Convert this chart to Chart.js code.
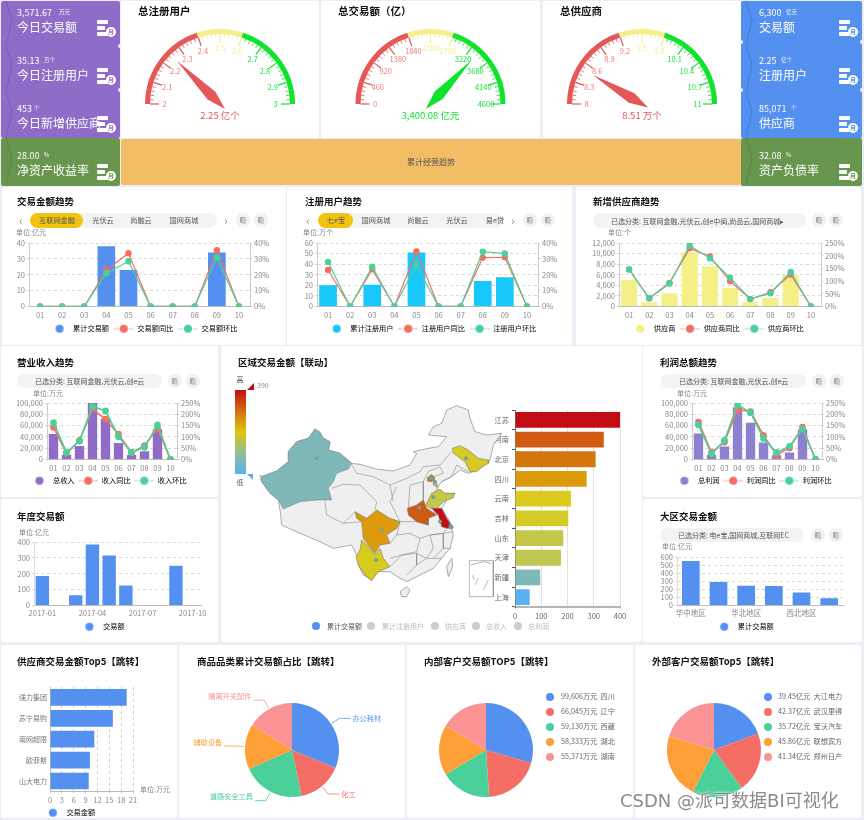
<!DOCTYPE html>
<html><head><meta charset="utf-8">
<script src="https://cdn.jsdelivr.net/npm/chart.js@4"></script>
<style>
html,body{margin:0;padding:0;background:#edeef5;width:864px;height:820px;overflow:hidden;font-family:"Noto Sans CJK SC","Noto Sans",sans-serif}
#root{position:relative;width:864px;height:820px;overflow:hidden;filter:blur(.3px)}
.p{position:absolute;background:#fff;border-radius:2px}
.t{position:absolute;white-space:nowrap;line-height:1;transform:translateY(-50%)}
canvas{position:absolute}
</style></head><body><div id="root"></div>
<script>
// ---------- KPI cards
const kpiLeftNames=["今日交易额","今日注册用户","今日新增供应商"];
const kpiLeftValues=["3,571.67","35.13","453"];
const kpiLeftUnits=["万元","万个","个"];
const kpiRightNames=["交易额","注册用户","供应商"];
const kpiRightValues=["6,300","2.25","85,071"];
const kpiRightUnits=["亿元","亿个","个"];
const kpiGreen=[["净资产收益率","28.00","%"],["资产负债率","32.08","%"]];
// ---------- gauges
const gaugeTitles=["总注册用户","总交易额（亿）","总供应商"];
const gaugeZones=[0.4,0.2,0.4];
const gaugeFractions=[0.25,0.7391,0.17];
const gaugeValues=["2.25 亿个","3,400.08 亿元","8.51 万个"];
const gaugeLabels1=["2","2.1","2.2","2.3","2.4","2.5","2.6","2.7","2.8","2.9","3"];
const gaugeLabels2=["0","460","920","1380","1840","2300","2760","3220","3680","4140","4600"];
const gaugeLabels3=["8","8.3","8.6","8.9","9.2","9.5","9.8","10.1","10.4","10.7","11"];
// ---------- monthly trend charts
const months=["01","02","03","04","05","06","07","08","09","10"];
const tradeBars=[0,0,0,38,23,0,0,0,34,0];
const tradeYoy=[0,0,0,23,33.5,0,0,0,35.5,0];
const tradeMom=[0,0,0,21,28.5,0,0,0,31,0];
const userBars=[20,0,20.5,0,51,0,0,24,27.5,0];
const userYoy=[23,0,23.4,0,34.7,0,0,30.8,31,0];
const userMom=[28,0,25,0,26,0,0,34.5,33.4,0];
const supplierBars=[5000,800,2500,10200,7600,3500,800,1600,5900,0];
const supplierYoy=[146,32,93,229,197,100,29,56,126,0];
const supplierMom=[146,32,90,240,190,113,29,52,136,0];
const revenueBars=[45000,8000,24000,100000,72000,29000,8000,14500,53000,0];
const revenueYoy=[143,27,84,224,178,112,31,61,138,0];
const revenueMom=[163,31,81,235,215,101,31,54,153,0];
const profitBars=[46000,8000,23000,92000,65000,30000,7500,12500,53000,0];
const profitYoy=[165,31,77,220,212,107,20,51,143,0];
const profitMom=[153,25,84,242,207,93,31,58,135,0];
// ---------- other bars
const yearLabels=["2017-01","2017-02","2017-03","2017-04","2017-05","2017-06","2017-07","2017-08","2017-09","2017-10"];
const yearValues=[185,0,65,385,315,125,0,0,250,0];
const regionLabels=["华中地区","华南地区","华北地区","华东地区","西北地区","东北地区"];
const regionValues=[550,290,245,240,160,90];
const provinceLabels=["江苏","河南","北京","四川","云南","吉林","山东","天津","新疆","上海"];
const provinceValues=[400,338,307,273,213,203,184,175,96,56];
const provinceColors=["#c30d14","#d05a12","#d4760f","#dc9a0c","#dccb1e","#d4cb26","#c5c748","#bfc750","#7eb8b8","#5ab0f0"];
const top5Names=["强力集团","苏宁易购","南网超限","欧菲斯","山大电力"];
const top5Values=[19.4,15.9,11.2,10.1,9.8];
// ---------- pies
const pieColors=["#5390f0","#f56e66","#4cd09a","#ff9f38","#fa9494"];
const categoryNames=["办公耗材","化工","道路安全工具","辅助设备","隔离开关配件"];
const categoryValues=[112.6,55.9,77.5,56,58];
const innerValues=[99606,66045,59130,58333,55371];
const innerLegend=["99,606万元  四川","66,045万元  辽宁","59,130万元  西藏","58,333万元  湖北","55,371万元  湖南"];
const outerValues=[39.45,42.37,35.72,45.86,41.34];
const outerLegend=["39.45亿元  大江电力","42.37亿元  武汉里得","35.72亿元  宝沃汽车","45.86亿元  联想宾方","41.34亿元  郑州日产"];
// ---------- map outlines, in map units
const mainland=[[285,252],[300,262],[310,280],[330,290],[325,315],[360,325],[395,355],[420,358],[470,372],[520,378],[570,360],[590,325],[580,320],[625,310],[655,305],[680,275],[625,270],[640,245],[665,235],[680,195],[710,182],[745,195],[750,220],[765,260],[800,270],[845,265],[820,300],[810,345],[775,375],[745,385],[720,375],[695,395],[665,410],[655,425],[645,445],[705,445],[680,465],[665,490],[690,530],[700,570],[690,610],[665,640],[640,670],[600,690],[560,710],[540,700],[510,680],[470,680],[455,705],[430,690],[415,660],[410,630],[395,600],[340,610],[300,590],[240,565],[185,540],[180,495],[175,465],[150,445],[125,410],[125,395],[170,378],[205,350],[205,320],[230,290],[265,280]];
const hainan=[[540,740],[560,725],[570,735],[560,755],[545,755]];
const taiwan=[[680,665],[695,640],[698,665],[685,695]];
const xinjiang=[[285,252],[300,262],[310,280],[330,290],[325,315],[360,325],[395,355],[385,372],[350,385],[340,410],[325,430],[335,465],[290,465],[240,470],[190,492],[175,465],[150,445],[125,410],[125,395],[170,378],[205,350],[205,320],[230,290],[265,280]];
const sichuan=[[405,500],[440,520],[470,495],[510,520],[540,530],[530,550],[500,570],[510,595],[480,600],[465,625],[445,600],[430,580],[425,530],[410,520]];
const yunnan=[[425,585],[450,610],[465,630],[480,610],[490,640],[510,665],[475,680],[455,707],[435,690],[415,660],[408,635],[420,615]];
const henan=[[562,490],[590,480],[610,465],[620,490],[650,510],[625,520],[625,540],[590,530],[565,510]];
const shandong=[[618,480],[635,445],[660,432],[675,445],[705,445],[700,458],[670,470],[650,490],[630,490]];
const jiangsu=[[635,490],[665,490],[680,520],[700,548],[680,550],[665,545],[655,510]];
const shanghai=[[688,535],[700,545],[695,552],[686,548]];
const beijing=[[622,398],[635,388],[645,400],[635,410],[622,408]];
const tianjin=[[640,400],[650,415],[652,425],[640,420]];
const jilin=[[697,310],[720,302],[745,315],[775,340],[805,345],[805,355],[780,370],[770,380],[750,380],[735,350],[700,325]];
const borderLines=[
[[315,468],[320,510],[370,535],[405,500]],
[[335,430],[370,418],[420,420],[470,470],[465,495]],
[[395,358],[410,385],[460,395],[510,420],[520,470]],
[[510,420],[560,400],[600,380],[610,365],[660,360],[695,320]],
[[530,425],[510,470],[540,530]],[[570,505],[565,490],[570,420]],
[[570,420],[610,410],[610,465]],
[[610,410],[625,380],[660,365],[670,385],[640,395],[650,430]],
[[665,410],[695,395],[710,360],[745,380]],
[[510,595],[530,570],[570,565],[600,580],[590,620],[545,630],[510,640]],
[[600,580],[630,570],[640,610],[620,640],[590,625]],
[[630,570],[670,565],[670,610],[640,640],[620,640]],
[[625,520],[640,500],[655,510],[680,550],[670,565],[630,570]],
[[670,565],[700,560]],[[670,610],[695,610]],[[640,640],[665,640]],
[[510,665],[545,630],[590,625],[590,660],[560,690]],
[[590,660],[620,640]],
[[540,530],[570,530],[590,530],[625,540]],
[[530,570],[540,530]],
[[425,530],[370,535]],
[[748,647],[820,647],[820,755],[748,755],[748,647]],
[[752,660],[790,650],[815,655]],[[765,720],[775,700]],[[790,735],[805,705]],[[758,690],[762,705]]
];
const mapDots=[[290,340],[485,553],[468,645],[598,488],[640,456],[660,530],[693,545],[633,400],[645,410],[738,340]];
const mapLegend=["累计交易额","累计注册用户","供应商","总收入","总利润"];

// ---------- helpers
const FONT='"Noto Sans CJK SC","Noto Sans",sans-serif';
const TICK=7.5,LEG=7.2;
Chart.defaults.font.family=FONT;
Chart.defaults.animation=false;
Chart.defaults.responsive=false;
const root=document.getElementById('root');
function panel(x,y,w,h,bg){const d=document.createElement('div');d.className='p';d.style.cssText=`left:${x}px;top:${y}px;width:${w}px;height:${h}px;background:${bg||'#fff'}`;root.appendChild(d);return d}
function text(s,x,y,o={}){const d=document.createElement('div');d.className='t';d.textContent=s;
 let css=`left:${x}px;top:${y}px;font-size:${o.size||8}px;color:${o.color||'#666'};`;
 if(o.bold)css+='font-weight:700;';
 if(o.center)css+='transform:translate(-50%,-50%);';
 if(o.clip)css+=`width:${o.clip}px;overflow:hidden;line-height:1.3;`;
 if(o.pre)css+='white-space:pre;';
 if(o.extra)css+=o.extra;
 d.style.cssText=css;root.appendChild(d);return d}
function canvas(x,y,w,h){const c=document.createElement('canvas');c.width=w;c.height=h;c.style.left=x+'px';c.style.top=y+'px';root.appendChild(c);return c}
function dot(x,y,r,color){const d=document.createElement('div');d.style.cssText=`position:absolute;left:${x-r}px;top:${y-r}px;width:${2*r}px;height:${2*r}px;border-radius:50%;background:${color}`;root.appendChild(d);return d}
function block(x,y,w,h,color,extra){const d=document.createElement('div');d.style.cssText=`position:absolute;left:${x}px;top:${y}px;width:${w}px;height:${h}px;background:${color};${extra||''}`;root.appendChild(d);return d}
function chevron(x,ys,color){const ns='http://www.w3.org/2000/svg';const s=document.createElementNS(ns,'svg');s.setAttribute('width','20');s.setAttribute('height','820');s.style.cssText=`position:absolute;left:${x}px;top:0`;
 ys.forEach(([a,b])=>{const l=document.createElementNS(ns,'polyline');l.setAttribute('points',`2,${a} 8,${a+(b-a)*.42} 2,${b}`);l.setAttribute('fill','none');l.setAttribute('stroke',color);s.appendChild(l)});root.appendChild(s)}
function icon(x,y,color){block(x,y,11,4,'#fff','border-radius:1px');block(x,y+6,8,4,'#fff','border-radius:1px');block(x,y+12,11,4,'#fff','border-radius:1px');dot(x+14,y+12,5,'#fff');text('月',x+14,y+12,{size:6,color,center:true,bold:true})}
function kpi(name,val,unit,x,y,iconX,iconY,color){text(val,x,y,{size:9,color:'#fff'});
 text(unit,x+val.length*5+2,y+1,{size:5.5,color:'#fff'});text(name,x,y+15,{size:12,color:'#fff'});icon(iconX,iconY,color)}
function roundBtn(x,y){dot(x,y,7,'#f0f0f0');block(x-3,y-3,5,6,'#aaa','border-radius:1px');block(x-1.5,y-2,4,6,'#ccc','border-radius:1px')}
function pill(x,y,w,h,s,sx){block(x,y,w,h,'#f3f3f3','border-radius:8px');if(s)text(s,sx,y+h/2,{size:7,color:'#555'})}

function lineIcon(color,withLine){const c=document.createElement('canvas');c.width=20;c.height=10;const g=c.getContext('2d');
 if(withLine){g.strokeStyle=color;g.globalAlpha=.55;g.beginPath();g.moveTo(0,5);g.lineTo(20,5);g.stroke();g.globalAlpha=1}
 g.fillStyle=color;g.beginPath();g.arc(10,5,4,0,7);g.fill();return c}
// Chart.js gives a bottom legend the height: line height + padding + 10
function layoutPad(P,plot,yl,yr,xh,legendY,fs){const lh=fs*1.2;let lp=0,lh2=0;
 if(legendY){lp=legendY-plot.b-xh-lh/2;lh2=lh+lp+10}
 return{pad:{left:plot.l-P.x-yl,right:P.x+P.w-plot.r-yr,top:plot.t-P.y,bottom:P.y+P.h-plot.b-xh-lh2},lp}}
function legendOpt(lp){return{display:true,position:'bottom',labels:{padding:lp,font:{size:LEG},color:'#777',usePointStyle:true,pointStyleWidth:20,boxHeight:8,
 generateLabels(ch){return ch.data.datasets.map((d,i)=>({text:d.label,pointStyle:lineIcon(d._c,d.type==='line'),fillStyle:d._c,strokeStyle:d._c,lineWidth:0,datasetIndex:i}))}}}}
const fmt=v=>Number(v).toLocaleString('en-US');
const GRID='#d8d8d8';
function combo(P,plot,o){const yl=o.yl,yr=24,xh=14;const {pad,lp}=layoutPad(P,plot,yl,yr,xh,o.legendY,LEG);
 const c=canvas(P.x,P.y,P.w,P.h);
 const lg=legendOpt(lp);
 new Chart(c,{type:'bar',data:{labels:months,datasets:[
  {type:'line',label:o.names[1],data:o.yoy,_c:'#f56e66',borderColor:'#f56e66',backgroundColor:'#f56e66',yAxisID:'y1',borderWidth:o.lw||1.2,pointRadius:2.6,pointHoverRadius:2.6,tension:0,order:2},
  {type:'line',label:o.names[2],data:o.mom,_c:'#4cd09a',borderColor:'#4cd09a',backgroundColor:'#4cd09a',yAxisID:'y1',borderWidth:o.lw||1.2,pointRadius:2.6,pointHoverRadius:2.6,tension:0,order:1},
  {type:'bar',label:o.names[0],data:o.bars,_c:o.color,backgroundColor:o.color,yAxisID:'y',barPercentage:o.bw||.8,categoryPercentage:1,order:3}]},
 options:{layout:{padding:pad,autoPadding:false},plugins:{legend:{...lg,labels:{...lg.labels,sort:(a,b)=>((a.datasetIndex+1)%3)-((b.datasetIndex+1)%3)}},tooltip:{enabled:false}},
  scales:{
   x:{afterFit:s=>{s.height=xh},grid:{display:false,drawTicks:false},border:{color:'#bbb'},ticks:{font:{size:TICK},color:'#888',padding:4,maxRotation:0,autoSkip:false}},
   y:{position:'left',min:0,max:o.max,afterFit:s=>{s.width=yl},ticks:{stepSize:o.step,autoSkip:false,font:{size:TICK},color:'#888',padding:2,callback:fmt},grid:{color:GRID,tickLength:2},border:{dash:[3,3],color:'#ccc'}},
   y1:{position:'right',min:0,max:o.rmax,afterFit:s=>{s.width=yr},ticks:{stepSize:o.rstep,autoSkip:false,font:{size:TICK},color:'#888',padding:2,callback:v=>v+'%'},grid:{drawOnChartArea:false,color:'#ccc',tickLength:2},border:{color:'#ccc'}}
  }}})}
function simpleBars(P,plot,o){const yl=plot.l-P.x-2,xh=14;const {pad,lp}=layoutPad(P,plot,yl,0,xh,o.legendY,LEG);
 const c=canvas(P.x,P.y,P.w,P.h);
 new Chart(c,{type:'bar',data:{labels:o.labels,datasets:[{label:o.name,data:o.values,_c:'#5390f0',backgroundColor:'#5390f0',barPercentage:o.bw||.8,categoryPercentage:1}]},
 options:{layout:{padding:{...pad,left:2},autoPadding:false},plugins:{legend:legendOpt(lp),tooltip:{enabled:false}},
  scales:{x:{afterFit:s=>{s.height=xh},grid:{display:false,drawTicks:false},border:{color:'#bbb'},ticks:{font:{size:TICK},color:'#888',padding:3,maxRotation:0,autoSkip:false,callback(v,i){return i%o.every===0?this.getLabelForValue(v):''}}},
   y:{min:0,max:o.max,afterFit:s=>{s.width=yl},ticks:{stepSize:o.step,autoSkip:false,font:{size:TICK},color:'#888',padding:2},grid:{color:GRID,tickLength:2},border:{dash:[3,3],color:'#ddd'}}}}})}

// ---------- page frame
panel(1,1,119,137,'#8e6cc7');panel(1,138,119,48,'#69964f');
panel(121,1,198,137);panel(321,1,219,137);panel(543,1,198,137);
panel(121,139,620,46,'#f3bd66');
panel(741,1,121,137,'#5390f0');panel(741,138,121,48,'#69964f');
panel(2,187,284,158);panel(287,187,285,158);panel(576,187,285,158);
panel(1,346,217,151);panel(1,499,217,143);panel(221,346,421,296);panel(643,346,219,151);panel(643,499,219,143);
panel(1,645,176,173);panel(179,645,226,173);panel(407,645,226,173);panel(635,645,226,173);
chevron(4,[[1,46],[46,92],[92,138],[138,186]],'rgba(0,0,0,.13)');
chevron(744,[[1,46],[46,92],[92,138],[138,186]],'rgba(0,0,0,.13)');
[[120,46],[120,90],[741,42],[741,90],[862,42],[862,90]].forEach(([x,y])=>dot(x,y,2,'#eef'));

[0,1,2].forEach(i=>{const ty=[12,60,108][i],iy=[20,68,116][i];
 kpi(kpiLeftNames[i],kpiLeftValues[i],kpiLeftUnits[i],17,ty,97,iy,'#8e6cc7');
 kpi(kpiRightNames[i],kpiRightValues[i],kpiRightUnits[i],759,ty,839,iy,'#5390f0')});
kpi(kpiGreen[0][0],kpiGreen[0][1],kpiGreen[0][2],17,155,97,164,'#69964f');
kpi(kpiGreen[1][0],kpiGreen[1][1],kpiGreen[1][2],759,155,839,164,'#69964f');
text('累计经营趋势',431,162,{size:8,color:'#555',center:true});

// ---------- gauges
const zoneColors=['#e45858','#f4ee8c','#0fe32e'];
const gaugeDeco={id:'gaugeDeco',afterDatasetsDraw(ch,_a,o){const g=ch.ctx,a=ch.getDatasetMeta(0).data[0],cx=a.x,cy=a.y,rIn=a.innerRadius;
 const zone=f=>f<=gaugeZones[0]+1e-6?zoneColors[0]:f<=gaugeZones[0]+gaugeZones[1]+1e-6?zoneColors[1]:zoneColors[2];
 g.save();
 for(let i=0;i<=50;i++){const f=i/50,ang=Math.PI*(1+f),maj=i%5===0,len=maj?9:3.5;
  g.strokeStyle=zone(f);g.lineWidth=maj?1.2:.8;g.beginPath();g.moveTo(cx+Math.cos(ang)*rIn,cy+Math.sin(ang)*rIn);g.lineTo(cx+Math.cos(ang)*(rIn-len),cy+Math.sin(ang)*(rIn-len));g.stroke();
  if(maj){g.fillStyle=zone(f)===zoneColors[0]?'#ee7a7a':zone(f);g.font='7.5px '+FONT;g.textAlign='center';g.textBaseline='middle';
   g.fillText(o.labels[i/5],cx+Math.cos(ang)*(rIn-14.5),cy+Math.sin(ang)*(rIn-14.5))}}
 const ang=Math.PI*(1+o.value),ux=Math.cos(ang),uy=Math.sin(ang),nx=-uy,ny=ux,L=o.len;
 g.fillStyle=zone(o.value);g.beginPath();g.moveTo(cx+ux*L,cy+uy*L);g.lineTo(cx+ux*12+nx*5.5,cy+uy*12+ny*5.5);g.lineTo(cx-ux*7,cy-uy*7);g.lineTo(cx+ux*12-nx*5.5,cy+uy*12-ny*5.5);g.closePath();g.fill();
 g.restore()}};
[[121,198,138,gaugeLabels1,61],[321,219,338,gaugeLabels2,60],[543,198,560,gaugeLabels3,57]].forEach(([x,w,tx,labels,len],i)=>{
 text(gaugeTitles[i],tx,11,{size:10.5,color:'#111',bold:true});
 const c=canvas(x,0,w,133);
 new Chart(c,{type:'doughnut',data:{labels:['低','中','高'],datasets:[{data:gaugeZones,backgroundColor:zoneColors,borderWidth:0}]},
  options:{rotation:-90,circumference:180,radius:75,cutout:'93.3%',layout:{padding:0},plugins:{legend:{display:false},tooltip:{enabled:false},gaugeDeco:{labels,value:gaugeFractions[i],len}}},plugins:[gaugeDeco]});
 text(gaugeValues[i],x+w/2,116,{size:9.5,color:zoneColors[gaugeFractions[i]<=.4?0:2],center:true});
});

// ---------- titles, tabs, units
function titles(list){list.forEach(([s,x,y])=>text(s,x,y,{size:9.5,color:'#111',bold:true}))}
titles([["交易金额趋势",17,202],["注册用户趋势",305,202],["新增供应商趋势",593,202],["营业收入趋势",17,363],["年度交易额",17,517],["区域交易金额【联动】",238,363],["利润总额趋势",660,363],["大区交易金额",660,517],["供应商交易金额Top5【跳转】",17,662],["商品品类累计交易额占比【跳转】",197,662],["内部客户交易额TOP5【跳转】",424,662],["外部客户交易额Top5【跳转】",652,662]]);
pill(30,213,187,15);block(30,213,53,15,'#f2c40f','border-radius:8px');
[["互联网金融",57],["光伏云",103],["尚融云",141],["国网商城",184]].forEach(([s,x])=>text(s,x,220.5,{size:7.2,color:'#555',center:true}));
text('‹',21,220,{size:11,color:'#777',center:true});text('›',226,220,{size:11,color:'#777',center:true});roundBtn(243,220);roundBtn(261,220);
pill(318,213,185,15);block(318,213,35,15,'#f2c40f','border-radius:8px');
[["七e宝",336],["国网商城",376],["尚融云",418],["光伏云",457],["易e贷",495]].forEach(([s,x])=>text(s,x,220.5,{size:7.2,color:'#555',center:true}));
text('‹',308,220,{size:11,color:'#777',center:true});text('›',513,220,{size:11,color:'#777',center:true});roundBtn(530,220);roundBtn(548,220);
pill(593,213,213,15,'已选分类: 互联网金融,光伏云,创e中闽,尚品云,国网商城▸',611);roundBtn(819,220);roundBtn(836,220);
pill(17,374,145,14,'已选分类: 互联网金融,光伏云,创e云',35);roundBtn(175,381);roundBtn(193,381);
pill(661,374,145,14,'已选分类: 互联网金融,光伏云,创e云',679);roundBtn(819,381);roundBtn(837,381);
pill(660,528,144,14,'已选分类: 电e宝,国网商城,互联网EC',678);roundBtn(818,535);roundBtn(836,535);
[["单位:亿元",16,232],["单位:万个",303,232],["单位:个",608,232],["单位:万元",33,393],["单位:亿元",19,532],["单位:万元",677,393],["单位:亿元",662,546],["单位:万元",140,789]].forEach(([s,x,y])=>text(s,x,y,{size:7,color:'#888'}));

combo({x:2,y:187,w:284,h:158},{l:29,r:250,t:243,b:305},{bars:tradeBars,yoy:tradeYoy,mom:tradeMom,color:'#5390f0',max:40,step:10,rmax:40,rstep:10,yl:16,legendY:328,names:['累计交易额','交易额同比','交易额环比']});
combo({x:287,y:187,w:285,h:158},{l:317,r:538,t:243,b:305},{bars:userBars,yoy:userYoy,mom:userMom,color:'#18c8fa',max:60,step:10,rmax:40,rstep:10,yl:16,legendY:328,names:['累计注册用户','注册用户同比','注册用户环比']});
combo({x:576,y:187,w:285,h:158},{l:619,r:821,t:243,b:305},{bars:supplierBars,yoy:supplierYoy,mom:supplierMom,color:'#f4ef87',max:12000,step:2000,rmax:250,rstep:50,yl:30,legendY:328,names:['供应商','供应商同比','供应商环比']});
combo({x:1,y:346,w:217,h:151},{l:47,r:177,t:403,b:458},{bars:revenueBars,yoy:revenueYoy,mom:revenueMom,color:'#906cc8',max:100000,step:20000,rmax:250,rstep:50,yl:32,bw:.72,lw:1.6,legendY:480,names:['总收入','收入同比','收入环比']});
combo({x:643,y:346,w:219,h:151},{l:692,r:822,t:403,b:458},{bars:profitBars,yoy:profitYoy,mom:profitMom,color:'#8e7fcf',max:100000,step:20000,rmax:250,rstep:50,yl:32,bw:.72,lw:1.6,legendY:480,names:['总利润','利润同比','利润环比']});
simpleBars({x:1,y:499,w:217,h:143},{l:34,r:201,t:542,b:604},{labels:yearLabels,values:yearValues,name:'交易额',max:400,step:100,every:3,legendY:626});
simpleBars({x:643,y:499,w:219,h:143},{l:677,r:843,t:557,b:604},{labels:regionLabels,values:regionValues,name:'累计交易额',max:600,step:100,every:2,bw:.64,legendY:626});

// ---------- map panel
block(235,390,11,84,'linear-gradient(to bottom,#c30d14 0%,#d4760f 27%,#e0c50f 50%,#8fbf9a 75%,#5ab0f0 100%)');
text('高',240,379,{size:7,color:'#555',center:true});text('低',240,482,{size:7,color:'#555',center:true});
block(247,383,7,7,'#c30d14','clip-path:polygon(100% 0,100% 100%,0 100%)');
block(247,474,6,6,'#5ab0f0','clip-path:polygon(0 0,100% 0,100% 100%)');
text('390',257,385,{size:7,color:'#888'});text('55',259,477,{size:7,color:'#888'});

// horizontal ranked bars, below the map
{const P={x:480,y:395,w:150,h:235},plot={l:515,r:620,t:410,b:607},yl=30,xh=14;
 const c=canvas(P.x,P.y,P.w,P.h);
 new Chart(c,{type:'bar',data:{labels:provinceLabels,datasets:[{label:'累计交易额',data:provinceValues,backgroundColor:provinceColors,barPercentage:.8,categoryPercentage:1}]},
 options:{indexAxis:'y',layout:{padding:{left:plot.l-P.x-yl,right:P.x+P.w-plot.r,top:plot.t-P.y,bottom:P.y+P.h-plot.b-xh},autoPadding:false},plugins:{legend:{display:false},tooltip:{enabled:false}},
  scales:{x:{min:0,max:400,afterFit:s=>{s.height=xh},ticks:{stepSize:100,autoSkip:false,font:{size:TICK},color:'#666',padding:2,maxRotation:0},grid:{color:'#e2e2e2',tickLength:3},border:{color:'#b5b5b5',width:2}},
   y:{afterFit:s=>{s.width=yl},ticks:{font:{size:7.2},color:'#666',padding:3,autoSkip:false},grid:{display:true,drawOnChartArea:false,tickLength:3,color:'#555'},border:{color:'#777'}}}}})}

{const c=canvas(220,345,425,300);
 const pts=a=>a.map(([x,y])=>({x,y}));
 const poly=(name,a,fill,line)=>({label:name,type:'scatter',showLine:true,data:pts(a.concat([a[0]])),fill:fill?'shape':false,backgroundColor:fill,borderColor:line,borderWidth:.6,pointRadius:0,tension:0});
 const ds=[poly('全国',mainland,'#efefef','#777'),poly('海南',hainan,'#efefef','#777'),poly('台湾',taiwan,'#efefef','#777')];
 borderLines.forEach(b=>ds.push({label:'界线',type:'scatter',showLine:true,data:pts(b),fill:false,borderColor:'#8a8a8a',borderWidth:.6,pointRadius:0,tension:0}));
 ds.push(poly('新疆',xinjiang,'#7eb8b8','#888'),poly('四川',sichuan,'#dc9a0c','#777'),poly('云南',yunnan,'#d8cb20','#777'),poly('河南',henan,'#d05a12','#777'),poly('山东',shandong,'#c7c748','#777'),poly('江苏',jiangsu,'#c30d14','#777'),poly('上海',shanghai,'#5fa8c8','#777'),poly('北京',beijing,'#d4760f','#777'),poly('天津',tianjin,'#bfc750','#777'),poly('吉林',jilin,'#d6cb24','#777'));
 ds.push({label:'中心',type:'scatter',data:pts(mapDots),backgroundColor:'#7a9e9a',borderWidth:0,pointRadius:2,showLine:false});
 ds.forEach((d,i)=>{d.order=ds.length-i;d.clip=false});
 new Chart(c,{type:'scatter',data:{datasets:ds},options:{layout:{padding:0,autoPadding:false},plugins:{legend:{display:false},tooltip:{enabled:false}},
  scales:{x:{display:false,min:0,max:1275},y:{display:false,reverse:true,min:0,max:900}}}})}
[[316,327,'#5390f0','#555'],[371,382,'#ccc','#bbb'],[435,445,'#ccc','#bbb'],[476,486,'#ccc','#bbb'],[518,528,'#ccc','#bbb']].forEach(([dx,tx,dc,tc],i)=>{dot(dx,626,4,dc);text(mapLegend[i],tx,626,{size:7,color:tc})});

// ---------- supplier top5
{const P={x:1,y:645,w:176,h:175},plot={l:50,r:133,t:687,b:790},yl=45,xh=14;const {pad,lp}=layoutPad(P,plot,yl,0,xh,812,LEG);
 const c=canvas(P.x,P.y,P.w,P.h);
 new Chart(c,{type:'bar',data:{labels:top5Names,datasets:[{label:'交易金额',data:top5Values,_c:'#5390f0',backgroundColor:'#5390f0',barPercentage:.8,categoryPercentage:1}]},
 options:{indexAxis:'y',layout:{padding:pad,autoPadding:false},plugins:{legend:legendOpt(lp),tooltip:{enabled:false}},
  scales:{x:{min:0,max:21,afterFit:s=>{s.height=xh},ticks:{stepSize:3,autoSkip:false,font:{size:TICK},color:'#888',padding:2,maxRotation:0},grid:{color:'#cfcfcf',tickLength:2},border:{dash:[3,3],color:'#bbb'}},
   y:{afterFit:s=>{s.width=yl},ticks:{font:{size:7},color:'#777',padding:3,autoSkip:false},grid:{display:false,drawTicks:false},border:{color:'#bbb'}}}}})}

// ---------- pies
const pieLabels={id:'pieLabels',afterDatasetsDraw(ch,_a,o){if(!o.names)return;const g=ch.ctx;g.save();g.font='7.2px '+FONT;
 ch.getDatasetMeta(0).data.forEach((a,i)=>{const mid=(a.startAngle+a.endAngle)/2,r=a.outerRadius,ux=Math.cos(mid),uy=Math.sin(mid),side=ux>=0?1:-1,
  x1=a.x+ux*(r+1),y1=a.y+uy*(r+1),x2=a.x+ux*(r+10),y2=a.y+uy*(r+10),x3=x2+side*11,y3=y2,col=pieColors[i];
  g.strokeStyle=col;g.lineWidth=.8;g.beginPath();g.moveTo(x1,y1);g.lineTo(x2,y2);g.lineTo(x3,y3);g.stroke();
  g.fillStyle=col;g.textBaseline='middle';g.textAlign=side>0?'left':'right';g.fillText(o.names[i],x3+side*2,y3-(side>0?0:4))});g.restore()}};
function pie(x,y,w,h,values,names){const c=canvas(x,y,w,h);
 new Chart(c,{type:'pie',data:{labels:names||values.map(String),datasets:[{data:values,backgroundColor:pieColors,borderWidth:0}]},
 options:{radius:47,layout:{padding:0},plugins:{legend:{display:false},tooltip:{enabled:false},pieLabels:{names}}},plugins:[pieLabels]})}
pie(179,682,226,136,categoryValues,categoryNames);
pie(436,700,100,100,innerValues);
pie(664,700,100,100,outerValues);
innerLegend.forEach((s,i)=>{const y=697+i*15;dot(550,y,4,pieColors[i]);text(s,561,y,{size:7.2,color:'#666',clip:56,pre:true})});
outerLegend.forEach((s,i)=>{const y=697+i*15;dot(768,y,4,pieColors[i]);text(s,778,y,{size:7.2,color:'#666',clip:65,pre:true})});

text('CSDN @派可数据BI可视化',620,801,{size:18,color:'#8b8b8b',extra:'text-shadow:0 0 2px #fff,0 0 2px #fff;font-family:"DejaVu Sans","Noto Sans CJK SC",sans-serif;'});
</script></body></html>
